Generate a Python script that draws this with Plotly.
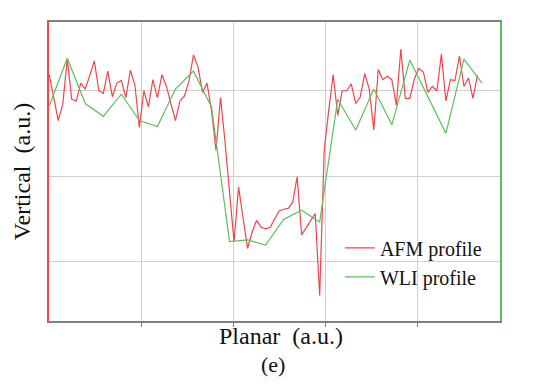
import plotly.graph_objects as go

# AFM profile: sample index (a.u.) and height (a.u.)
afm_x = list(range(96))
afm_y = [31.9, 29.2, 26.5, 28.4, 33.7, 29.0, 28.8, 30.9, 30.2, 31.8,
         33.5, 30.0, 29.7, 32.3, 29.3, 30.9, 31.2, 29.2, 32.4, 30.7,
         25.7, 30.0, 28.1, 31.3, 29.2, 31.9, 30.5, 28.5, 26.5, 28.8,
         29.4, 31.1, 34.2, 32.8, 29.8, 30.9, 27.7, 23.0, 29.2, 24.0,
         18.1, 12.3, 18.7, 15.0, 11.5, 13.4, 14.8, 14.0, 13.8, 14.0,
         15.0, 15.9, 16.1, 16.2, 16.9, 19.9, 13.1, 13.9, 14.8, 15.6,
         6.0, 23.0, 27.7, 31.9, 27.1, 30.0, 30.0, 30.8, 28.5, 29.3,
         32.0, 30.2, 25.4, 32.5, 31.3, 31.7, 31.3, 28.3, 34.9, 29.1,
         29.1, 31.4, 32.6, 32.2, 29.8, 30.5, 30.0, 34.3, 28.8, 31.3,
         31.2, 34.1, 30.5, 31.5, 29.1, 31.8]

# WLI profile
wli_x = [0, 4, 8, 12, 16, 20, 24, 28, 32, 36, 40, 44, 48, 52, 56, 60,
         64, 68, 72, 76, 80, 84, 88, 92, 96]
wli_y = [28.2, 33.8, 28.5, 27.0, 29.6, 26.5, 25.8, 30.2, 32.3, 28.1,
         12.3, 12.5, 11.9, 14.9, 16.0, 14.6, 29.0, 25.4, 30.2, 26.0,
         33.6, 29.3, 25.0, 33.7, 30.9]

x_grid = [20.45, 40.9, 61.35, 81.8]
y_grid = [10, 20, 30]

RED = "#f2434c"
GREEN = "#5cbf5c"
FONT = "Liberation Serif"

fig = go.Figure()
fig.add_trace(go.Scatter(x=afm_x, y=afm_y, mode="lines", name="AFM profile",
                         line=dict(color=RED, width=1.2)))
fig.add_trace(go.Scatter(x=wli_x, y=wli_y, mode="lines", name="WLI profile",
                         line=dict(color=GREEN, width=1.2)))
# invisible trace to carry the right-hand axis
fig.add_trace(go.Scatter(x=[None], y=[None], yaxis="y2", showlegend=False,
                         hoverinfo="skip"))

fig.update_layout(
    width=540, height=387,
    margin=dict(l=49, r=40, t=22, b=66),
    paper_bgcolor="white", plot_bgcolor="white",
    font=dict(family=FONT, color="#111111"),
    showlegend=True,
    legend=dict(x=0.645, y=0.31, xanchor="left", yanchor="top",
                bgcolor="rgba(0,0,0,0)", borderwidth=0,
                font=dict(family=FONT, size=20, color="#111111"),
                tracegroupgap=0, itemwidth=30),
    xaxis=dict(range=[-0.05, 100], tickvals=x_grid, showticklabels=False,
               ticks="outside", ticklen=4, tickcolor="#777777",
               showgrid=True, gridcolor="#cfcfcf", gridwidth=1,
               showline=True, linecolor="#808080", linewidth=1.5, mirror=True,
               zeroline=False, automargin=False),
    yaxis=dict(range=[3.0, 38.06], tickvals=y_grid, showticklabels=False,
               ticks="", showgrid=True, gridcolor="#cfcfcf", gridwidth=1,
               showline=True, linecolor=RED, linewidth=1.5, zeroline=False,
               automargin=False,
               title=dict(text="Vertical  (a.u.)", font=dict(family=FONT, size=24),
                          standoff=10)),
    yaxis2=dict(overlaying="y", side="right", range=[3.0, 38.06],
                showticklabels=False, ticks="", showgrid=False,
                showline=True, linecolor=GREEN, linewidth=1.5, zeroline=False,
                automargin=False),
    annotations=[
        dict(text="Planar  (a.u.)", xref="paper", yref="paper", x=0.515, y=0.0,
             xanchor="center", yanchor="top", showarrow=False,
             font=dict(family=FONT, size=24, color="#111111")),
        dict(text="(e)", xref="paper", yref="paper", x=0.497, y=-0.098,
             xanchor="center", yanchor="top", showarrow=False,
             font=dict(family=FONT, size=22, color="#111111")),
    ],
)

fig.write_html("out.html", config={"displayModeBar": False},
               post_script="document.body.style.margin='0';document.body.style.overflow='hidden';")
